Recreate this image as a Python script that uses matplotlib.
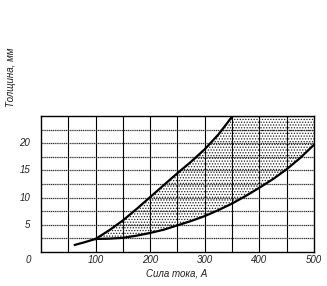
import matplotlib.pyplot as plt
import numpy as np

plt.rcParams['font.family'] = ['Liberation Sans', 'DejaVu Sans']
plt.rcParams['hatch.linewidth'] = 0.6

# Кривые: нижняя и верхняя границы (сила тока, А -> толщина, мм)
lower_x = [62, 80, 100, 125, 150, 175, 200, 225, 250, 275, 300, 325,
           350, 375, 400, 425, 450, 475, 500]
lower_y = [1.3, 1.8, 2.4, 2.45, 2.6, 3.0, 3.5, 4.1, 4.9, 5.7, 6.6, 7.7,
           8.9, 10.3, 11.8, 13.4, 15.2, 17.3, 19.7]
upper_x = [100, 125, 150, 175, 200, 225, 250, 275, 300, 325, 351]
upper_y = [2.4, 4.0, 5.8, 7.9, 10.1, 12.3, 14.5, 16.6, 18.9, 21.6, 25.0]

x_ticks = [100, 200, 300, 400, 500]
y_ticks = [5, 10, 15, 20]

fig = plt.figure(figsize=(3.27, 2.86), dpi=100)
ax = fig.add_axes([0.1254, 0.1189, 0.8346, 0.4755])
ax.set_xlim(0, 500)
ax.set_ylim(0, 25)

# сетка
for gx in np.arange(50, 500, 50):
    ax.axvline(gx, color='black', lw=0.8, zorder=1)
for gy in np.arange(2.5, 25, 2.5):
    ax.axhline(gy, color='#333333', lw=0.9, ls=(0, (1, 0.5)), zorder=1)

# заштрихованная область
xx = np.linspace(100, 500, 400)
lo = np.interp(xx, lower_x, lower_y)
up = np.minimum(np.interp(xx, upper_x, upper_y, right=25), 25)
ax.fill_between(xx, lo, up, facecolor='none', edgecolor='#222222',
                hatch='......', lw=0, zorder=2)

ax.plot(lower_x, lower_y, color='black', lw=1.6, zorder=3)
ax.plot(upper_x, upper_y, color='black', lw=1.6, zorder=3)

for s in ax.spines.values():
    s.set_linewidth(1.0)

ax.set_xticks([])
ax.set_yticks([])
for t in x_ticks:
    ax.text(t, -1.5, str(t), ha='center', va='center', fontsize=7,
            style='italic', color='#222222')
for t in y_ticks:
    ax.text(-20, t, str(t), ha='right', va='center', fontsize=7,
            style='italic', color='#222222')
ax.text(-24, -1.5, '0', ha='center', va='center', fontsize=7,
        style='italic', color='#222222')

fig.text(177 / 327, 1 - 273 / 286, 'Сила тока, А', ha='center', va='center',
         fontsize=7, style='italic', color='#222222')
fig.text(11 / 327, 1 - 77 / 286, 'Толщина, мм', ha='center', va='center',
         fontsize=7, style='italic', rotation=90, color='#222222')

fig.savefig('out.png', dpi=100)
